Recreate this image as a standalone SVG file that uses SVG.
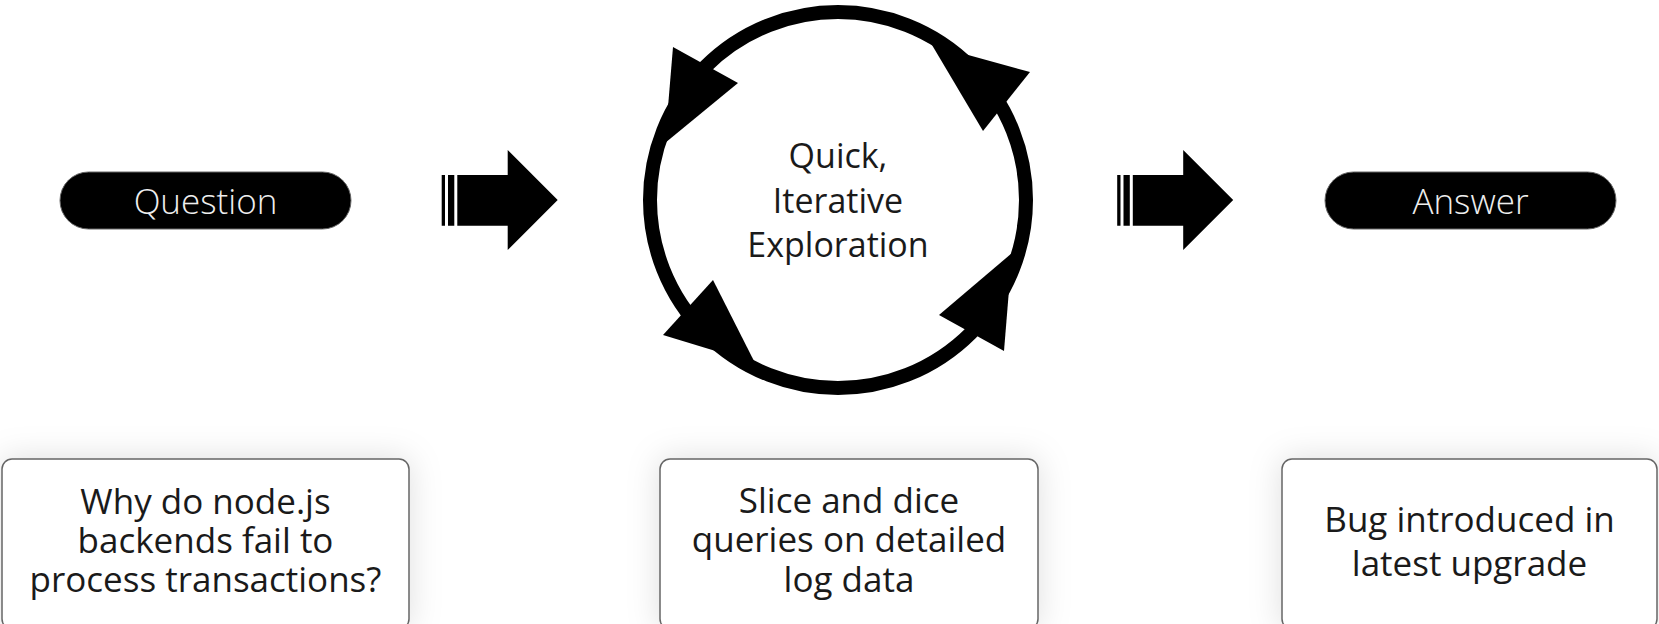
<svg xmlns="http://www.w3.org/2000/svg" width="1659" height="624" viewBox="0 0 1659 624">
  <style>
    .pill { fill: #000; stroke: #666; stroke-width: 1; }
    .pill-text { font-family: "Open Sans", "Liberation Sans", sans-serif; font-weight: 300; font-size: 35px; fill: #eee; text-anchor: middle; }
    .card { fill: #fff; stroke: #666; stroke-width: 1.5; filter: url(#soft-shadow); }
    .card-text { font-family: "Open Sans", "Liberation Sans", sans-serif; font-size: 35px; fill: #1a1a1a; text-anchor: middle; }
    .loop-text { font-family: "Open Sans", "Liberation Sans", sans-serif; font-size: 34px; fill: #1a1a1a; text-anchor: middle; }
    .ring { fill: none; stroke: #000; stroke-width: 14; }
    .solid { fill: #000; }
  </style>
  <defs>
    <filter id="soft-shadow" x="-20%" y="-40%" width="140%" height="180%">
      <feGaussianBlur in="SourceAlpha" stdDeviation="16" result="blur"/>
      <feFlood flood-color="#000" flood-opacity="0.13"/>
      <feComposite in2="blur" operator="in" result="shadow"/>
      <feMerge>
        <feMergeNode in="shadow"/>
        <feMergeNode in="SourceGraphic"/>
      </feMerge>
    </filter>
    <!-- striped block arrow, drawn from the first stripe at x=0, centred on y=0 -->
    <path id="block-arrow" class="solid" d="M0,-25 h3.3 v50.7 h-3.3 Z M6.3,-25 h6.3 v50.7 h-6.3 Z M15.6,-25 H66 V-50 L116,0 L66,50 V25.7 H15.6 Z"/>
  </defs>

  <!-- start node -->
  <g id="question">
    <rect class="pill" x="60" y="172" width="291" height="57" rx="28.5"/>
    <text class="pill-text" x="205.5" y="214">Question</text>
  </g>

  <!-- central loop -->
  <g id="exploration">
    <circle class="ring" cx="838" cy="200" r="188"/>
    <polygon class="solid" points="673,47 738,83 665,143"/>
    <polygon class="solid" points="713,280 663,335 755,363"/>
    <polygon class="solid" points="939,315 1004,351 1012,253"/>
    <polygon class="solid" points="932,45 1030,72 983,131"/>
    <text class="loop-text" x="838" y="168">Quick,</text>
    <text class="loop-text" x="838" y="213">Iterative</text>
    <text class="loop-text" x="838" y="257">Exploration</text>
  </g>

  <!-- end node -->
  <g id="answer">
    <rect class="pill" x="1325" y="172" width="291" height="57" rx="28.5"/>
    <text class="pill-text" x="1470.5" y="214">Answer</text>
  </g>

  <!-- example cards -->
  <g id="question-example">
    <rect class="card" x="2" y="459" width="407" height="170" rx="10"/>
    <text class="card-text" x="205.5" y="514">Why do node.js</text>
    <text class="card-text" x="205.5" y="553">backends fail to</text>
    <text class="card-text" x="205.5" y="592">process transactions?</text>
  </g>
  <g id="exploration-example">
    <rect class="card" x="660" y="459" width="378" height="170" rx="10"/>
    <text class="card-text" x="849" y="513">Slice and dice</text>
    <text class="card-text" x="849" y="552">queries on detailed</text>
    <text class="card-text" x="849" y="592">log data</text>
  </g>
  <g id="answer-example">
    <rect class="card" x="1282" y="459" width="375" height="170" rx="10"/>
    <text class="card-text" x="1469.5" y="532">Bug introduced in</text>
    <text class="card-text" x="1469.5" y="576">latest upgrade</text>
  </g>

  <!-- connectors -->
  <g id="connectors">
    <use href="#block-arrow" transform="translate(441.7,200)"/>
    <use href="#block-arrow" transform="translate(1117.2,200)"/>
  </g>
</svg>
